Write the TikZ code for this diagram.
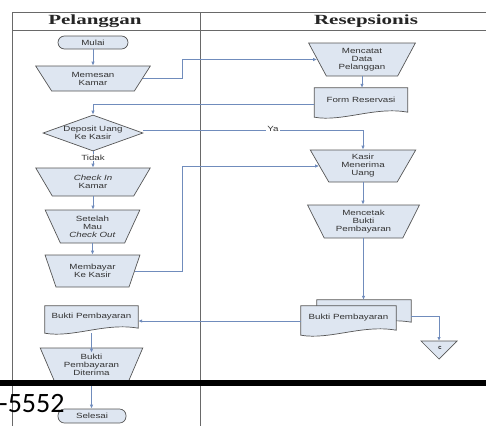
\documentclass[tikz,border=0pt]{standalone}
\usepackage{fontspec}
\setmainfont{Liberation Sans}
\newfontfamily\isifont[FakeStretch=1.3]{Liberation Sans}
\newfontfamily\judulfont[FakeStretch=1.5]{Liberation Serif}
\newfontfamily\angkafont{Carlito}
\usetikzlibrary{arrows.meta,calc,shapes.geometric,backgrounds}
\definecolor{isi}{RGB}{222,230,241}
\definecolor{tepi}{RGB}{85,85,85}
\definecolor{panah}{RGB}{112,140,188}
\definecolor{lajur}{RGB}{105,105,105}

\tikzset{
    teks/.style={font=\isifont\fontsize{7.5}{8}\selectfont, text=black!80, align=center, inner sep=0pt},
    kotak/.style={teks, fill=isi, draw=tepi, line width=0.7pt},
    manual/.style n args={2}{kotak, trapezium, trapezium stretches=true, shape border rotate=180,
        trapezium angle=63, minimum width=#1, minimum height=#2},
    terminal/.style={kotak, rectangle, rounded corners=6.5pt, minimum width=70, minimum height=13},
    keputusan/.style={kotak, diamond, aspect=2.8, minimum width=100, minimum height=36},
    dokumen/.style n args={2}{teks, minimum width=#1, minimum height=#2},
    alur/.style={draw=panah, line width=0.8pt, -{Latex[length=4pt,width=3.5pt]}},
    garislajur/.style={draw=lajur, line width=0.9pt},
    judul/.style={font=\judulfont\bfseries\fontsize{14}{14}\selectfont, text=black!85, inner sep=0pt}
}

%% garis dokumen (bawah bergelombang)
\newcommand{\gambardok}[1]{%
  \filldraw[fill=isi, draw=tepi, line width=0.7pt] (#1.north west) -- (#1.north east) -- (#1.south east)
    .. controls ($(#1.south east)!0.35!(#1.south west)+(0,-6)$) and ($(#1.south east)!0.7!(#1.south west)+(0,10)$) .. ([yshift=-5pt]#1.south west) -- cycle;}

\begin{document}
\begin{tikzpicture}[x=1pt, y=-1pt]
    \useasboundingbox (0,0) rectangle (486,426);
    %%Lajur
    \draw[garislajur] (12,426) -- (12,12) -- (486,12);
    \draw[garislajur] (12,30) -- (486,30);
    \draw[garislajur] (200,12) -- (200,426);
    \node[judul] (pelanggan) at (95,21) {Pelanggan};
    \node[judul] (resepsionis) at (366,21) {Resepsionis};
    %%Pelanggan
    \node[terminal] (mulai) at (93,42.5) {Mulai};
    \node[manual={115}{25}, trapezium angle=58] (memesan) at (93,78.5) {Memesan\\Kamar};
    \node[keputusan] (deposit) at (93,133) {Deposit Uang\\Ke Kasir};
    \node[manual={115}{28}, trapezium angle=60] (checkin) at (93,182) {\textit{Check In}\\Kamar};
    \node[manual={95}{33}] (setelah) at (92.5,226.5) {Setelah\\Mau\\\textit{Check Out}};
    \node[manual={95}{32}] (membayar) at (92.5,271) {Membayar\\Ke Kasir};
    \node[dokumen={93}{22}] (buktiP) at (91.5,317) {Bukti Pembayaran};
    \node[manual={103}{34}] (diterima) at (91.5,365) {Bukti\\Pembayaran\\Diterima};
    \node[terminal, minimum width=68, minimum height=14] (selesai) at (92,416) {Selesai};
    %%Resepsionis
    \node[manual={107}{33}] (mencatat) at (362,59.5) {Mencatat\\Data\\Pelanggan};
    \node[dokumen={93}{24}] (form) at (361,100) {Form Reservasi};
    \node[manual={106}{32}] (kasir) at (363,166) {Kasir\\Menerima\\Uang};
    \node[manual={112}{33}] (mencetak) at (363.5,221.5) {Mencetak\\Bukti\\Pembayaran};
    \node[dokumen={94}{22}] (buktiB) at (364,311) {};
    \node[dokumen={95}{24}] (buktiD) at (348.5,318) {Bukti Pembayaran};
    \coordinate (arsip) at (439,341);
    \filldraw[fill=isi, draw=tepi, line width=0.7pt] (arsip) ++(-18,0) -- ++(36,0) -- ++(-18,18) -- cycle;
    \node[font=\bfseries\fontsize{4.5}{4.5}\selectfont, inner sep=0pt] (huruf) at (440,347.5) {C};
    %%Bentuk dokumen di belakang teks
    \begin{scope}[on background layer]
        \gambardok{buktiP}
        \gambardok{form}
        \gambardok{buktiB}
        \gambardok{buktiD}
    \end{scope}
    %%Alur
    \coordinate (jalur) at (182,0);
    \draw[alur] (mulai.south) -- (mulai.south |- memesan.north);
    \draw[alur] (memesan.east) -- (memesan.east -| jalur) |- (mencatat);
    \draw[alur] (mencatat.south) -- (mencatat.south |- form.north);
    \draw[alur] ([yshift=-4pt]form.west) -| (deposit.north);
    \draw[alur] ([yshift=3pt]deposit.east) -| (kasir.north);
    \node[teks, fill=white, inner sep=1pt] (ya) at (273,129) {Ya};
    \draw[alur] (deposit.south) -- (deposit.south |- checkin.north);
    \node[teks, fill=white, inner sep=1pt] (tidak) at (93,157.5) {Tidak};
    \draw[alur] (checkin.south) -- (checkin.south |- setelah.north);
    \draw[alur] (setelah.south) -- (setelah.south |- membayar.north);
    \draw[alur] (membayar.east) -- (membayar.east -| jalur) |- (kasir);
    \draw[alur] (kasir.south) -- (kasir.south |- mencetak.north);
    \draw[alur] (mencetak.south) -- (mencetak.south |- buktiB.north);
    \draw[alur] ([yshift=-3pt]buktiD.west) -- ([yshift=-3pt]buktiD.west -| buktiP.east);
    \draw[alur] ([yshift=-5pt]buktiB.east) -| (arsip);
    \draw[alur] ([yshift=-5pt]buktiP.south) -- ([yshift=-5pt]buktiP.south |- diterima.north);
    \draw[alur] (diterima.south) -- (diterima.south |- selesai.north);
    %%Garis hitam dan nomor
    \fill[black] (0,380) rectangle (486,386);
    \node[anchor=base west, font=\angkafont\fontsize{28}{28}\selectfont, inner sep=0pt] (nomor) at (-1,412) {-5552};
\end{tikzpicture}
\end{document}
